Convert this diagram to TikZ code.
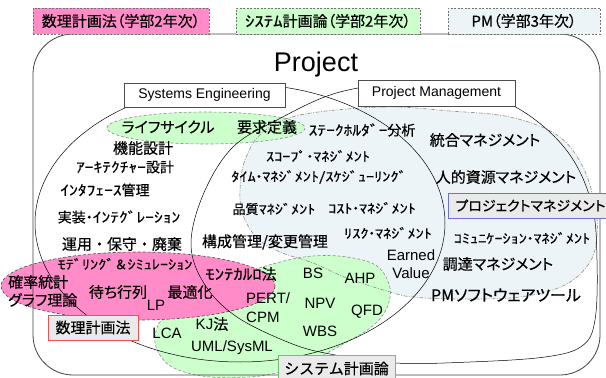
\documentclass[tikz,border=0pt]{standalone}
\usepackage{fontspec}
\setmainfont{Liberation Sans}
\newfontfamily\jp[RawFeature=+palt, FakeBold=0.4]{Noto Sans CJK JP}
\newfontfamily\jpn[FakeBold=0.4]{Noto Sans CJK JP}
\newfontfamily\jphw[FakeStretch=1.25, FakeBold=0.4]{Noto Sans CJK JP}
\newcommand\hw[1]{{\jphw#1}}
\newcommand\fsz[1]{\fontsize{#1}{#1}\selectfont}
\definecolor{mathfill}{HTML}{FF8CC8}
\definecolor{sysfill}{HTML}{CCFFCC}
\definecolor{pmfill}{HTML}{ECF4F7}
\definecolor{boxgray}{HTML}{EAEAEA}
\definecolor{boxred}{HTML}{F05050}
\definecolor{boxgreen}{HTML}{70C070}
\definecolor{boxblue}{HTML}{7070D0}
\begin{document}
\begin{tikzpicture}[x=1pt,y=-1pt,
  lbl/.style={inner sep=0pt, font=\jp\fsz{15}},
  lbln/.style={inner sep=0pt, font=\jpn\fsz{15}},
  lat/.style={inner sep=0pt, font=\fsz{15}},
  mid/.style={inner sep=0pt, font=\jp\fsz{14}},
  small/.style={inner sep=0pt, font=\jp\fsz{13}},
  legendbox/.style={draw=black!55, dash pattern=on 2pt off 1.5pt, line width=0.6pt,
    minimum height=26, inner sep=0pt, font=\jp\fsz{15}},
  tagbox/.style={fill=boxgray, line width=0.8pt, inner sep=0pt, minimum height=25},
  titlebox/.style={draw=black!70, fill=white, line width=0.6pt, inner sep=0pt,
    font=\fsz{14}},
  setline/.style={draw=black, line width=0.5pt},
  pmedge/.style={draw=black!45, line width=0.6pt, dash pattern=on 4pt off 1.5pt on 1pt off 1.5pt},
  sysedge/.style={draw=black!45, line width=0.6pt, dash pattern=on 3pt off 2pt},
  mathedge/.style={draw=black!70, line width=0.6pt, dash pattern=on 3pt off 2pt}
]
\useasboundingbox (0,0) rectangle (606,378);

% --- course areas: fills ---
\fill[pmfill] plot[smooth cycle, tension=0.6] coordinates {
  (300,115) (383,107) (450,111) (510,117) (557,135) (582,165) (595,205) (597,235)
  (590,262) (565,285) (520,297) (460,299) (413,297) (390,292) (347,278) (313,263)
  (280,252) (257,238) (243,215) (240,190) (245,160) (262,133)};
\fill[sysfill] (206,128) ellipse [x radius=99, y radius=16];
\fill[sysfill] plot[smooth cycle, tension=0.6] coordinates {
  (165,318) (200,295) (240,275) (280,262) (313,256) (347,257) (377,266) (390,288)
  (386,310) (370,328) (345,343) (325,354) (300,366) (260,376) (210,377) (172,367)
  (156,347) (157,328)};

% --- course areas: borders ---
\draw[pmedge] plot[smooth cycle, tension=0.6] coordinates {
  (300,115) (383,107) (450,111) (510,117) (557,135) (582,165) (595,205) (597,235)
  (590,262) (565,285) (520,297) (460,299) (413,297) (390,292) (347,278) (313,263)
  (280,252) (257,238) (243,215) (240,190) (245,160) (262,133)};
\draw[sysedge] (206,128) ellipse [x radius=99, y radius=16];
\draw[sysedge] plot[smooth cycle, tension=0.6] coordinates {
  (165,318) (200,295) (240,275) (280,262) (313,256) (347,257) (377,266) (390,288)
  (386,310) (370,328) (345,343) (325,354) (300,366) (260,376) (210,377) (172,367)
  (156,347) (157,328)};
\filldraw[fill=mathfill, mathedge] (138,286) ellipse [x radius=137, y radius=34];

% --- project frame and the two disciplines ---
\draw[black!75, line width=0.8pt, rounded corners=40] (33,34) rectangle (600,375);
\draw[setline] (240,223) ellipse [x radius=205, y radius=139];
\draw[setline] plot[smooth cycle, tension=0.6] coordinates {
  (420,82) (480,92) (530,116) (570,155) (592,205) (597,260) (595,320) (582,346)
  (545,357) (470,362) (395,363) (330,354) (290,343) (237,317) (205,285) (191,245)
  (203,195) (232,148) (277,120) (340,92)};

% --- systems engineering ---
\node[lbl] (lifecycle) at (168,127) {ライフサイクル};
\node[lbl] (req) at (267,127) {要求定義};
\node[lbl] (func) at (143,148) {機能設計};
\node[mid] (arch) at (125,167) {\hw{ｱｰｷﾃｸﾁｬｰ}設計};
\node[mid] (iface) at (105,190) {\hw{ｲﾝﾀﾌｪｰｽ}管理};
\node[mid] (integ) at (119,217) {実装・\hw{ｲﾝﾃｸﾞﾚｰｼｮﾝ}};
\node[lbln] (ops) at (122,244) {運用・保守・廃棄};
\node[lbln] (config) at (265,242) {構成管理/変更管理};

% --- shared with project management ---
\node[mid] (stake) at (362,130) {\hw{ｽﾃｰｸﾎﾙﾀﾞｰ}分析};
\node[small] (scope) at (318,156) {\hw{ｽｺｰﾌﾟ}・\hw{ﾏﾈｼﾞﾒﾝﾄ}};
\node[small] (time) at (319,177) {\hw{ﾀｲﾑ}・\hw{ﾏﾈｼﾞﾒﾝﾄ/ｽｹｼﾞｭｰﾘﾝｸﾞ}};
\node[small] (quality) at (274,209) {品質\hw{ﾏﾈｼﾞﾒﾝﾄ}};
\node[small] (cost) at (372,208) {\hw{ｺｽﾄ}・\hw{ﾏﾈｼﾞﾒﾝﾄ}};
\node[small] (risk) at (388,233) {\hw{ﾘｽｸ}・\hw{ﾏﾈｼﾞﾒﾝﾄ}};
\node[lat, align=center, font=\fontsize{15}{18}\selectfont] (ev) at (411,264) {Earned\\Value};

% --- project management ---
\node[lbl] (integ2) at (485,140) {統合マネジメント};
\node[lbl] (hr) at (506,177) {人的資源マネジメント};
\node[small] (comm) at (522,238) {\hw{ｺﾐｭﾆｹｰｼｮﾝ}・\hw{ﾏﾈｼﾞﾒﾝﾄ}};
\node[lbl] (proc) at (498,264) {調達マネジメント};
\node[inner sep=0pt, font=\jp\fsz{16}] (pmsw) at (506,295) {PMソフトウェアツール};

% --- system planning ---
\node[lat] (bs) at (313,273) {BS};
\node[lat] (ahp) at (360,278) {AHP};
\node[lat] (npv) at (320,303) {NPV};
\node[lat] (qfd) at (367,312) {QFD};
\node[lat] (wbs) at (320,331) {WBS};
\node[lat, anchor=west, align=left, font=\fontsize{15}{19}\selectfont] (pert) at (246,308) {PERT/\\CPM};
\node[lat] (kj) at (212,324) {KJ{\jp 法}};
\node[lat] (lca) at (167,333) {LCA};
\node[lat] (uml) at (232,348) {UML/SysML};
\node[lbl] (monte) at (241,274) {\hw{ﾓﾝﾃｶﾙﾛ}法};

% --- mathematical programming ---
\node[small] (model) at (125,264) {\hw{ﾓﾃﾞﾘﾝｸﾞ}{\jpn ＆}\hw{ｼﾐｭﾚｰｼｮﾝ}};
\node[lbln, anchor=west] (prob) at (8,282) {確率統計};
\node[lbl, anchor=west] (graph) at (8,300) {グラフ理論};
\node[lbl] (queue) at (118,292) {待ち行列};
\node[lbln] (opt) at (190,292) {最適化};
\node[lat] (lp) at (156,305) {LP};

% --- area tags ---
\node[tagbox, draw=boxred, minimum width=90, font=\jpn\fsz{15}] (mathtag) at (93,327.5) {数理計画法};
\node[tagbox, draw=boxgreen, minimum width=117, minimum height=27, font=\jpn\fsz{15}] (systag) at (336.5,368.5) {システム計画論};
\node[tagbox, draw=boxblue, anchor=west, inner xsep=7pt, text width=150pt, align=left,
  font=\jp\fsz{14}] (pmtag) at (448,205.5) {プロジェクトマネジメント};

% --- discipline titles ---
\node[titlebox, minimum width=161, minimum height=24] (se) at (204.5,95) {Systems Engineering};
\node[titlebox, minimum width=157, minimum height=26] (pm) at (436.5,93) {Project Management};
\node[inner sep=0pt, font=\fsz{27}, anchor=base] (project) at (316,71) {Project};

% --- legend ---
\node[legendbox, fill=mathfill, minimum width=176] (lgmath) at (121,21) {数理計画法（学部2年次）};
\node[legendbox, fill=sysfill, minimum width=184] (lgsys) at (328,21) {\hw{ｼｽﾃﾑ}計画論（学部2年次）};
\node[legendbox, fill=pmfill, minimum width=152] (lgpm) at (524,21) {PM（学部3年次）};
\end{tikzpicture}
\end{document}
